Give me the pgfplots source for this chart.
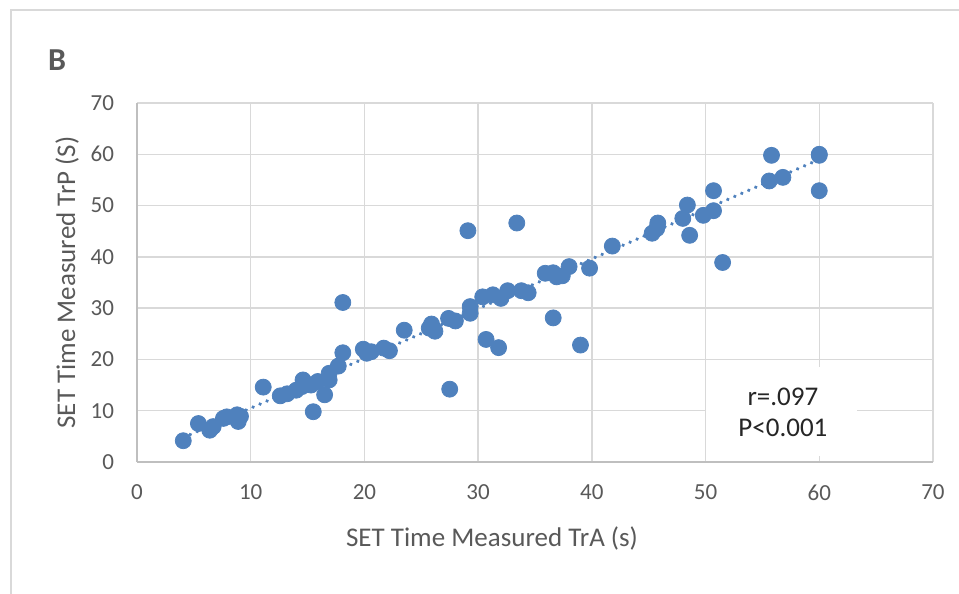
\documentclass[border=0pt]{standalone}
\usepackage{pgfplots}
\pgfplotsset{compat=1.18}
\usepackage{fontspec}
\setmainfont{Carlito}
\definecolor{ptblue}{HTML}{4F81BD}
\definecolor{gridgray}{HTML}{D9D9D9}
\definecolor{axgray}{HTML}{BFBFBF}
\definecolor{txtgray}{HTML}{595959}
\begin{document}
\begin{tikzpicture}
\useasboundingbox (0,0) rectangle (479.5pt,297pt);
% outer chart frame (cropped)
\draw[gridgray, line width=0.75pt] (5.5pt,-5pt) -- (5.5pt,292pt) -- (490pt,292pt);
\node[anchor=center, text=txtgray, font=\fontsize{16}{18}\selectfont\bfseries] at (28.5pt,267pt) {B};
\begin{axis}[
  at={(68.5pt,66pt)}, anchor=origin,
  scale only axis, width=398pt, height=179.5pt,
  xmin=0, xmax=70, ymin=0, ymax=70,
  xtick={0,10,...,70}, ytick={0,10,...,70},
  grid=major,
  major grid style={gridgray, line width=0.75pt},
  axis x line*=bottom, axis y line*=left,
  axis line style={axgray, line width=0.8pt, -},
  tick style={draw=none},
  /pgf/number format/assume math mode=true,
  ticklabel style={text=txtgray, font=\fontsize{11.5}{13}\selectfont},
  xticklabel style={yshift=-8pt},
  yticklabel style={xshift=-8pt},
  xlabel={SET Time Measured TrA (s)},
  ylabel={SET Time Measured TrP (S)},
  label style={text=txtgray, font=\fontsize{13.5}{15}\selectfont},
  xlabel style={at={(axis description cs:0.446,-0.2117)}, anchor=center},
  ylabel style={at={(axis description cs:-0.0879,0.5)}, anchor=center, rotate=0},
  clip=false,
]
\addplot[only marks, mark=*, mark size=4pt, mark options={fill=ptblue, draw=ptblue}] coordinates {
(4.07,4.15) (5.4,7.5) (6.4,6.2) (6.7,6.9) (7.6,8.5) (7.9,8.8) (8.8,9.2) (8.9,7.9) (9.1,8.9)
(11.1,14.6) (12.6,12.9) (13.2,13.3) (14.0,14.0) (14.5,14.7) (14.6,16.0) (14.8,15.2) (15.3,15.0)
(15.5,9.8) (15.9,15.7) (16.5,13.1) (16.9,17.3) (16.9,16.0) (17.7,18.7) (18.1,21.3) (18.1,31.1)
(19.9,22.0) (20.2,21.2) (20.6,21.5) (21.7,22.2) (22.2,21.7) (23.5,25.7) (25.7,26.1) (25.9,26.9)
(26.2,25.5) (27.4,28.0) (27.5,14.2) (28.0,27.5) (29.1,45.1) (29.3,30.3) (29.3,29.0) (30.4,32.2)
(30.7,23.9) (31.3,32.6) (31.8,22.3) (32.0,31.9) (32.6,33.4) (33.4,46.6) (33.8,33.4) (34.4,33.0)
(35.9,36.8) (36.6,36.9) (36.6,28.1) (36.9,36.1) (37.4,36.3) (38.0,38.1) (39.0,22.8) (39.8,37.8)
(41.8,42.1) (45.3,44.6) (45.7,45.5) (45.8,46.6) (48.0,47.5) (48.4,50.1) (48.6,44.2) (49.8,48.1)
(50.7,49.0) (50.7,52.9) (51.5,38.9) (55.6,54.8) (55.8,59.8) (56.8,55.5) (60.0,59.8) (60.0,60.0)
(60.0,52.9)
};
\addplot[ptblue, line width=1.9pt, line cap=round, dash pattern=on 0.01pt off 3.8pt] coordinates {(4.07,4.75) (60,59.0)};
\fill[white] (axis cs:50.0,1.2) rectangle (axis cs:63.3,18.5);
\node[anchor=center, text=black!85, font=\fontsize{13.5}{15}\selectfont] at (axis cs:56.8,12.7) {r=.097};
\node[anchor=center, text=black!85, font=\fontsize{13.5}{15}\selectfont] at (axis cs:56.8,6.6) {P<0.001};
\end{axis}
\end{tikzpicture}
\end{document}
